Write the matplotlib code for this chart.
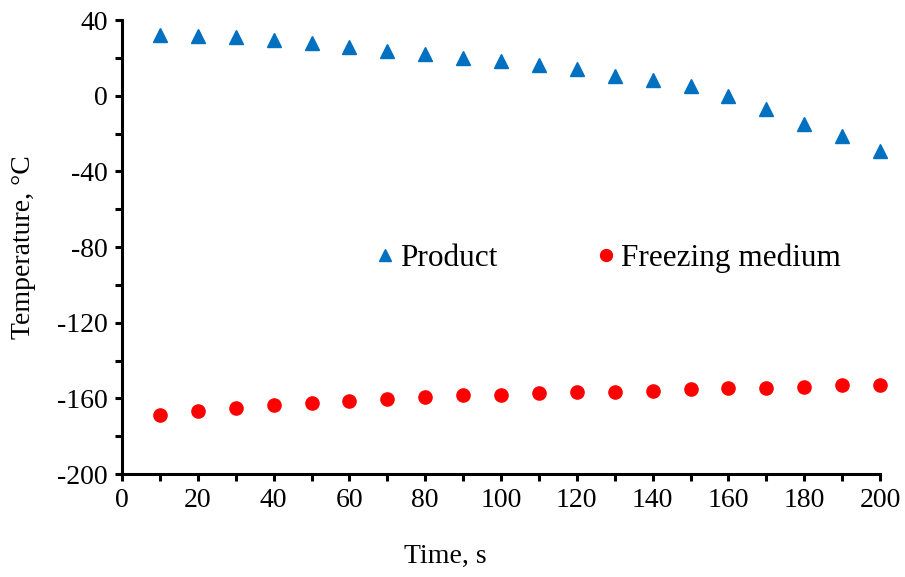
import matplotlib
matplotlib.use("Agg")
import matplotlib.pyplot as plt
from matplotlib.ticker import MultipleLocator

# time in seconds
time_s = [10, 20, 30, 40, 50, 60, 70, 80, 90, 100,
          110, 120, 130, 140, 150, 160, 170, 180, 190, 200]

# product core temperature, deg C
product = [32.3, 31.6, 31.0, 29.6, 27.6, 26.0, 23.5, 21.9, 20.1, 18.2,
           16.1, 14.0, 10.5, 8.5, 5.1, -0.3, -7.2, -15.1, -21.3, -29.2]

# freezing medium temperature, deg C
medium = [-168.9, -166.9, -165.0, -163.4, -162.2, -161.5, -160.2, -159.4, -158.1, -158.1,
          -157.4, -156.7, -156.7, -156.2, -155.3, -154.6, -154.6, -153.9, -153.2, -152.7]

plt.rcParams["font.family"] = ["Liberation Serif", "DejaVu Serif"]
plt.rcParams["axes.unicode_minus"] = False

FS = 20

fig = plt.figure(figsize=(9.05, 5.77), dpi=100)
ax = fig.add_axes([0.1348, 0.1785, 0.8376, 0.7868])

ax.plot(time_s, product, linestyle="none", marker="^", ms=9.5,
        color="#0070C0", label="Product", clip_on=False)
ax.plot(time_s, medium, linestyle="none", marker="o", ms=9.5,
        color="#FF0000", label="Freezing medium", clip_on=False)

ax.set_xlim(0, 200)
ax.set_ylim(-200, 40)
ax.xaxis.set_major_locator(MultipleLocator(20))
ax.xaxis.set_minor_locator(MultipleLocator(10))
ax.yaxis.set_major_locator(MultipleLocator(40))
ax.yaxis.set_minor_locator(MultipleLocator(20))

for side in ["top", "right"]:
    ax.spines[side].set_visible(False)
for side in ["left", "bottom"]:
    ax.spines[side].set_linewidth(2.2)

ax.tick_params(which="both", direction="out", width=2.2, length=5,
               labelsize=FS, pad=5)

ax.set_xlabel("Time, s", fontsize=FS)
ax.set_ylabel("Temperature, \u00b0C", fontsize=FS)
ax.xaxis.set_label_coords(0.426, -0.155)
ax.yaxis.set_label_coords(-0.113, 0.5)

ax.legend(loc="center", bbox_to_anchor=(0.6416, 0.476), ncol=2, frameon=False,
          fontsize=22.5, numpoints=1, markerscale=0.9, handlelength=0.6,
          handletextpad=0.2, columnspacing=3.15, borderpad=0, borderaxespad=0)

fig.savefig("out.png", dpi=100)
